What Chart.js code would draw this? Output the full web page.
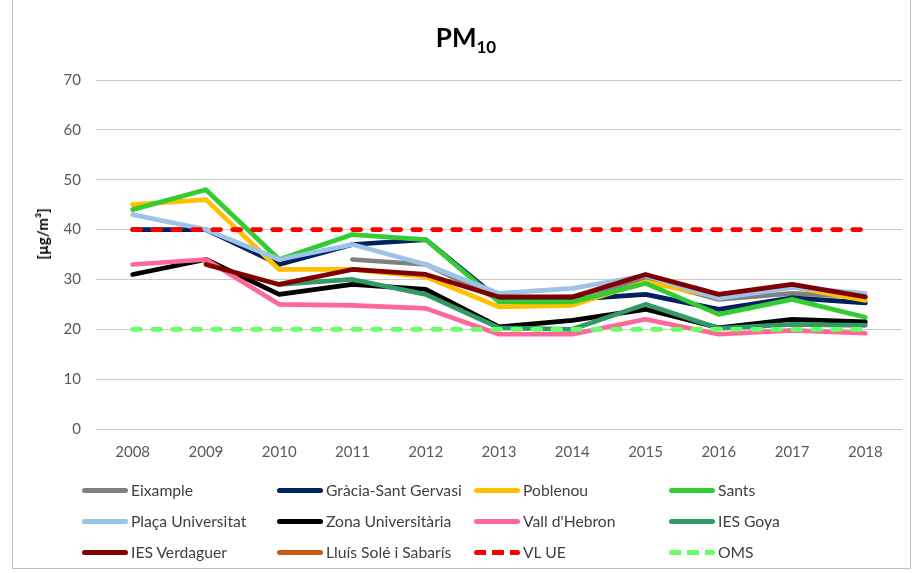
<!DOCTYPE html>
<html>
<head>
<meta charset="utf-8">
<script src="https://cdn.jsdelivr.net/npm/chart.js@4.4.1/dist/chart.umd.min.js"></script>
<style>
  html, body { margin:0; padding:0; background:#fff; }
  #wrap { position:relative; width:922px; height:573px; overflow:hidden; font-family: Lato, "Liberation Sans", sans-serif; }
  #frame { position:absolute; left:12px; top:-2px; width:899px; height:571px; border:1px solid #bfbfbf; box-sizing:border-box; }
  #c { position:absolute; left:0; top:0; }
  #title { position:absolute; left:0; width:932px; top:22px; text-align:center; font-weight:bold; font-size:26px; color:#000; line-height:30px; }
  #title sub { font-size:17px; vertical-align:-6px; line-height:0; }
  #ylab { position:absolute; left:42px; top:234px; transform:translate(-50%,-50%) rotate(-90deg); font-weight:bold; font-size:15px; color:#000; white-space:nowrap; }
  .li { position:absolute; height:20px; font-size:15.7px; color:#404040; white-space:nowrap; line-height:20px; }
  .li .sw { position:absolute; left:0; top:8px; width:46px; height:5px; border-radius:3px; }
  .li .txt { position:absolute; left:49px; top:0; }
</style>
</head>
<body>
<div id="wrap">
  <div id="frame"></div>
  <canvas id="c" width="922" height="573"></canvas>
  <div id="title">PM<sub>10</sub></div>
  <div id="ylab">[µg/m³]</div>
  <div id="legend"></div>
</div>
<script>
const years = ["2008","2009","2010","2011","2012","2013","2014","2015","2016","2017","2018"];
const yTicks = [0,10,20,30,40,50,60,70];

const eixample          = [null, null, null, 34, 33, 26, 26.5, 30, 26, 27.2, 26.5];
const graciaSantGervasi = [40, 40, 33, 37, 38, 26, 26, 27, 24, 26.3, 25.3];
const poblenou          = [45, 46, 32, 32, 30.5, 24.5, 24.8, 29.5, 26.5, 28.5, 25.8];
const sants             = [44, 48, 34, 39, 38, 25.5, 25.5, 29.2, 23, 26, 22.4];
const placaUniversitat  = [43, 40, 34, 37, 33, 27.2, 28.2, 30.8, 26.2, 28.4, 27.2];
const zonaUniversitaria = [31, 34, 27, 29, 28, 20.5, 21.8, 24, 20.3, 22, 21.5];
const vallHebron        = [33, 34, 25, 24.8, 24.2, 19, 19, 22, 19, 19.8, 19.2];
const iesGoya           = [null, null, 29, 30, 27, 20.3, 20, 25, 20.2, 21, 20.8];
const iesVerdaguer      = [null, 33, 29, 32, 31, 26.5, 26.5, 31, 27, 29, 26.5];
const lluisSole         = [null, null, null, null, null, null, null, null, null, null, null];
const vlUE              = [40, 40, 40, 40, 40, 40, 40, 40, 40, 40, 40];
const oms               = [20, 20, 20, 20, 20, 20, 20, 20, 20, 20, 20];

const seriesNames = ["Eixample","Gràcia-Sant Gervasi","Poblenou","Sants","Plaça Universitat","Zona Universitària","Vall d'Hebron","IES Goya","IES Verdaguer","Lluís Solé i Sabarís","VL UE","OMS"];
const seriesData = [eixample, graciaSantGervasi, poblenou, sants, placaUniversitat, zonaUniversitaria, vallHebron, iesGoya, iesVerdaguer, lluisSole, vlUE, oms];
const seriesColors = ["#808080","#002060","#FFC000","#33CC33","#9DC3E6","#000000","#FF6699","#339966","#800000","#C55A11","#FF0000","#66FF66"];
const seriesDashed = [false,false,false,false,false,false,false,false,false,false,true,true];

const N = seriesNames.length;
const datasets = seriesNames.map((name, i) => ({
  label: name,
  data: seriesData[i],
  borderColor: seriesColors[i],
  backgroundColor: seriesColors[i],
  borderWidth: 4.7,
  borderDash: seriesDashed[i] ? [8, 12] : [],
  borderCapStyle: 'round',
  borderJoinStyle: 'round',
  pointRadius: 0,
  pointHoverRadius: 0,
  tension: 0,
  fill: false,
  spanGaps: false,
  order: N - i
}));

new Chart(document.getElementById('c'), {
  type: 'line',
  data: { labels: years, datasets },
  options: {
    responsive: false,
    animation: false,
    events: [],
    layout: { padding: { left: 0, right: 20, top: 80, bottom: 109 } },
    plugins: { legend: { display: false }, title: { display: false }, tooltip: { enabled: false } },
    scales: {
      x: {
        type: 'category',
        offset: true,
        grid: { display: false, drawTicks: false },
        border: { display: false },
        ticks: { color: '#595959', font: { family: 'Lato', size: 15 }, padding: 14, maxRotation: 0 },
        afterFit: (s) => { s.height = 35; }
      },
      y: {
        min: 0, max: 70,
        afterBuildTicks: (s) => { s.ticks = yTicks.map(v => ({ value: v })); },
        grid: { color: '#c8c8c8', lineWidth: 1, drawTicks: false },
        border: { display: false },
        ticks: { color: '#595959', font: { family: 'Lato', size: 15 }, padding: 15 },
        afterFit: (s) => { s.width = 96; }
      }
    }
  }
});

// HTML legend (4 columns x 3 rows)
const colX = [82, 277, 474, 669];
const rowY = [480, 511, 542];
const legend = document.getElementById('legend');
seriesNames.forEach((name, i) => {
  const col = i % 4, row = Math.floor(i / 4);
  const item = document.createElement('div');
  item.className = 'li';
  item.style.left = colX[col] + 'px';
  item.style.top = rowY[row] + 'px';
  const sw = document.createElement('div');
  sw.className = 'sw';
  if (seriesDashed[i]) {
    sw.style.background = `repeating-linear-gradient(90deg, ${seriesColors[i]} 0 12px, transparent 12px 18px)`;
  } else {
    sw.style.background = seriesColors[i];
  }
  const t = document.createElement('span');
  t.className = 'txt';
  t.textContent = name;
  item.appendChild(sw);
  item.appendChild(t);
  legend.appendChild(item);
});
</script>
</body>
</html>
